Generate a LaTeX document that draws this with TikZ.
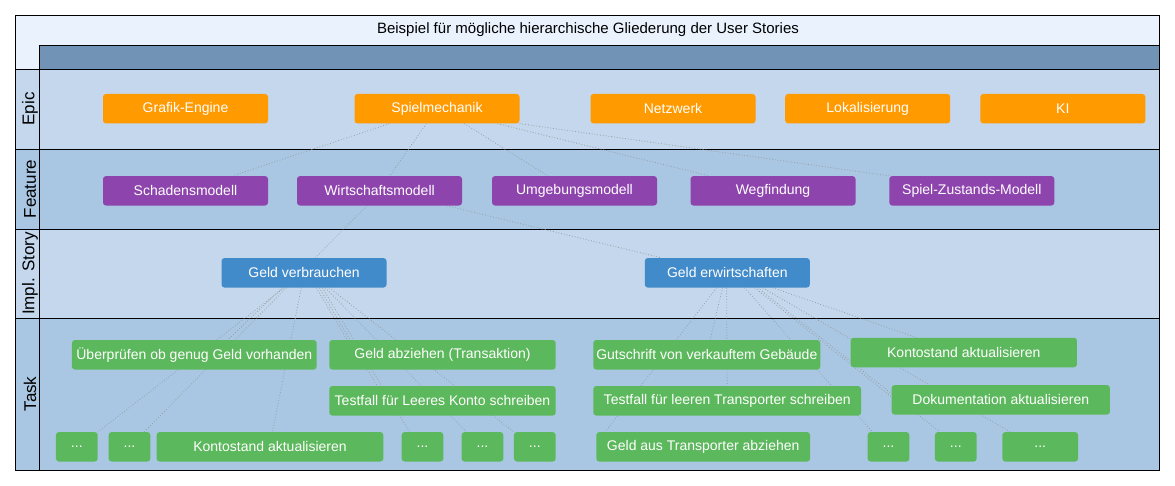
\documentclass[tikz,border=0pt]{standalone}
\usepackage{fontspec}
\setmainfont{Liberation Sans}
\definecolor{titlec}{HTML}{EAF2FD}
\definecolor{headc}{HTML}{7093B6}
\definecolor{lanea}{HTML}{C4D7EC}
\definecolor{laneb}{HTML}{A9C7E2}
\definecolor{epicc}{HTML}{FF9A00}
\definecolor{featc}{HTML}{8E44AD}
\definecolor{storyc}{HTML}{428BCA}
\definecolor{taskc}{HTML}{5CB85C}
\definecolor{linkc}{HTML}{9A9DA3}
\pgfdeclarelayer{lanelayer}
\pgfdeclarelayer{edgelayer}
\pgfsetlayers{lanelayer,edgelayer,main}
\begin{document}
\begin{tikzpicture}[x=1pt,y=-1pt,
  box/.style={rounded corners=3pt, minimum height=29.5pt, inner sep=0pt, text=white, font=\fontsize{14}{16}\selectfont},
  epicbox/.style={box, fill=epicc, minimum width=165pt},
  featbox/.style={box, fill=featc, minimum width=165pt},
  storybox/.style={box, fill=storyc, minimum width=165pt},
  taskbox/.style={box, fill=taskc, minimum width=#1},
  link/.style={draw=linkc, line width=0.8pt, dash pattern=on 0.8pt off 2pt},
  lanelabel/.style={rotate=90, font=\fontsize{17}{19}\selectfont},
  frame/.style={draw=black, line width=0.9pt}]
\useasboundingbox (0,0) rectangle (1175,485);
% lanes
\begin{pgfonlayer}{lanelayer}
\fill[titlec] (15,15) rectangle (1159,69);
\fill[headc] (39,45) rectangle (1159,69);
\fill[lanea] (15,69) rectangle (1159,149);
\fill[laneb] (15,149) rectangle (1159,229);
\fill[lanea] (15,229) rectangle (1159,318);
\fill[laneb] (15,318) rectangle (1159,470);
\draw[frame] (15,15) rectangle (1159,470);
\draw[frame] (39,45) -- (1159,45);
\draw[frame] (39,45) -- (39,470);
\draw[frame] (15,69) -- (1159,69);
\draw[frame] (15,149) -- (1159,149);
\draw[frame] (15,229) -- (1159,229);
\draw[frame] (15,318) -- (1159,318);
\end{pgfonlayer}
% title and lane labels
\node[font=\fontsize{15}{17}\selectfont] (title) at (588,30) {Beispiel für mögliche hierarchische Gliederung der User Stories};
\node[lanelabel] (lepic) at (30,109) {Epic};
\node[lanelabel] (lfeat) at (30,189) {Feature};
\node[lanelabel] (lstory) at (30,273.5) {Impl. Story};
\node[lanelabel] (ltask) at (30,394) {Task};
% nodes
\node[epicbox] (gr) at (185.5,108.7) {Grafik-Engine};
\node[epicbox] (sm) at (437,108.7) {Spielmechanik};
\node[epicbox] (nw) at (673,108.7) {Netzwerk};
\node[epicbox] (lo) at (867.7,108.7) {Lokalisierung};
\node[epicbox] (ki) at (1062.8,108.7) {KI};
\node[featbox] (sd) at (185.5,190.8) {Schadensmodell};
\node[featbox] (ws) at (379.5,190.8) {Wirtschaftsmodell};
\node[featbox] (um) at (574.5,190.8) {Umgebungsmodell};
\node[featbox] (wf) at (773,190.8) {Wegfindung};
\node[featbox] (sz) at (971.8,190.8) {Spiel-Zustands-Modell};
\node[storybox] (gv) at (304,272.8) {Geld verbrauchen};
\node[storybox] (ge) at (727.3,272.8) {Geld erwirtschaften};
\node[taskbox=244.7pt] (ub) at (194.3,354.8) {Überprüfen ob genug Geld vorhanden};
\node[taskbox=226.4pt] (ga) at (442.5,354.8) {Geld abziehen (Transaktion)};
\node[taskbox=226.4pt] (tl) at (442.5,400.8) {Testfall für Leeres Konto schreiben};
\node[taskbox=41.7pt] (d1) at (76.8,446.8) {...};
\node[taskbox=41.7pt] (d2) at (129.5,446.8) {...};
\node[taskbox=226.7pt] (k1) at (270,446.8) {Kontostand aktualisieren};
\node[taskbox=41.7pt] (d3) at (422.5,446.8) {...};
\node[taskbox=41.7pt] (d4) at (482.5,446.8) {...};
\node[taskbox=41.7pt] (d5) at (534.8,446.8) {...};
\node[taskbox=227pt] (gs) at (706.8,354.8) {Gutschrift von verkauftem Gebäude};
\node[taskbox=267.7pt] (tt) at (727.2,400.8) {Testfall für leeren Transporter schreiben};
\node[taskbox=213.7pt] (gau) at (703.2,446.8) {Geld aus Transporter abziehen};
\node[taskbox=226.3pt] (k2) at (963.8,352.5) {Kontostand aktualisieren};
\node[taskbox=218.3pt] (dk) at (1000.8,399.8) {Dokumentation aktualisieren};
\node[taskbox=41.7pt] (d6) at (888.5,446.8) {...};
\node[taskbox=41.7pt] (d7) at (955.8,446.8) {...};
\node[taskbox=75.7pt] (d8) at (1040.2,446.8) {...};
% connectors (behind nodes)
\begin{pgfonlayer}{edgelayer}
\draw[link] ([xshift=35pt]sm.south west) -- ([xshift=130pt]sd.north west);
\draw[link] ([xshift=72pt]sm.south west) -- ([xshift=93pt]ws.north west);
\draw[link] ([xshift=110pt]sm.south west) -- ([xshift=56pt]um.north west);
\draw[link] ([xshift=143pt]sm.south west) -- ([xshift=19pt]wf.north west);
\draw[link] (sm.south east) -- (sz.north west);
\draw[link] ([xshift=70pt]ws.south west) -- ([xshift=94pt]gv.north west);
\draw[link] ([xshift=150pt]ws.south west) -- ([xshift=17pt]ge.north west);
\draw[link] ([xshift=61pt]gv.south west) -- ([xshift=156pt]ub.north west);
\draw[link] ([xshift=63pt]gv.south west) -- (d1.north east);
\draw[link] ([xshift=65pt]gv.south west) -- ([xshift=36pt]d2.north west);
\draw[link] ([xshift=80pt]gv.south west) -- ([xshift=116pt]k1.north west);
\draw[link] ([xshift=95pt]gv.south west) -- ([xshift=18pt]ga.north west);
\draw[link] ([xshift=98pt]gv.south west) -- ([xshift=48pt]tl.north west);
\draw[link] ([xshift=101pt]gv.south west) -- ([xshift=8pt]d3.north west);
\draw[link] ([xshift=104pt]gv.south west) -- ([xshift=5pt]d4.north west);
\draw[link] ([xshift=108pt]gv.south west) -- (d5.north west);
\draw[link] ([xshift=78pt]ge.south west) -- ([xshift=117pt]gs.north west);
\draw[link] ([xshift=82pt]ge.south west) -- ([xshift=134pt]tt.north west);
\draw[link] ([xshift=72pt]ge.south west) -- ([xshift=9pt]gau.north west);
\draw[link] ([xshift=100pt]ge.south west) -- ([xshift=5pt]d6.north west);
\draw[link] ([xshift=110pt]ge.south west) -- ([yshift=3pt]dk.west);
\draw[link] ([xshift=113pt]ge.south west) -- ([xshift=5pt]d7.north west);
\draw[link] ([xshift=118pt]ge.south west) -- ([xshift=8pt]d8.north west);
\draw[link] ([xshift=128pt]ge.south west) -- ([xshift=66pt]k2.north west);
\end{pgfonlayer}
\end{tikzpicture}
\end{document}
